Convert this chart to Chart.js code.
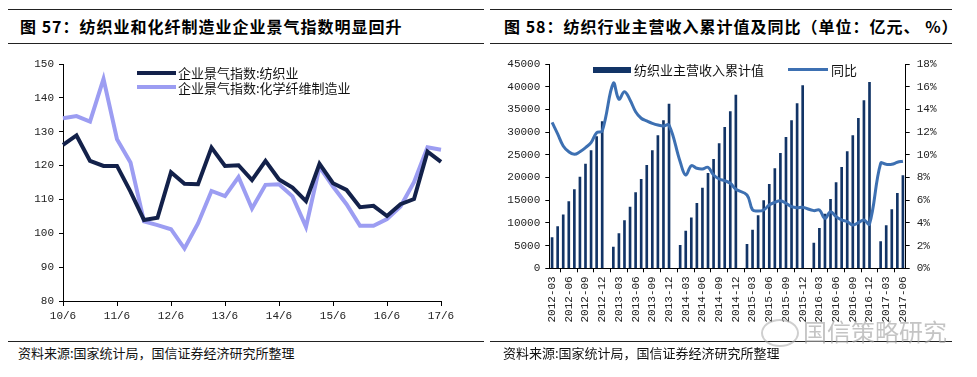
<!DOCTYPE html>
<html>
<head>
<meta charset="utf-8">
<script src="https://cdn.jsdelivr.net/npm/chart.js@4.4.1/dist/chart.umd.min.js"></script>
<style>
  body { margin: 0; background: #fff; }
  #page { position: relative; width: 977px; height: 377px; overflow: hidden; background: #fff;
          font-family: "Noto Sans CJK SC", sans-serif; color: #000; }
  .abs { position: absolute; white-space: nowrap; }
  .rule { position: absolute; height: 1px; background: #222; }
  .title { font-size: 16px; font-weight: 700; line-height: 18px; letter-spacing: 1px; }
  .src { font-size: 13px; line-height: 16px; color: #111; }
  .lg { font-size: 13px; line-height: 15px; color: #111; }
  canvas { position: absolute; }
</style>
</head>
<body>
<div id="page">
  <!-- 左图 -->
  <div class="rule" style="left:8px;top:9px;width:476px"></div>
  <div class="abs title" style="left:20px;top:17px">图 57：纺织业和化纤制造业企业景气指数明显回升</div>
  <div class="rule" style="left:8px;top:43px;width:476px"></div>
  <canvas id="c1" width="480" height="280" style="left:0;top:50px"></canvas>
  <div class="abs" style="left:137px;top:70.5px;width:39px;height:4px;background:#13214a"></div>
  <div class="abs lg" style="left:178px;top:65px">企业景气指数:纺织业</div>
  <div class="abs" style="left:137px;top:85px;width:39px;height:4px;background:#9c9df2"></div>
  <div class="abs lg" style="left:178px;top:79.5px">企业景气指数:化学纤维制造业</div>
  <div class="rule" style="left:8px;top:341px;width:476px"></div>
  <div class="abs src" style="left:18px;top:345px">资料来源:国家统计局，国信证券经济研究所整理</div>

  <!-- 右图 -->
  <div class="rule" style="left:490px;top:9px;width:462px"></div>
  <div class="abs title" style="left:504px;top:17px">图 58：纺织行业主营收入累计值及同比（单位：亿元、 %）</div>
  <div class="rule" style="left:490px;top:43px;width:462px"></div>
  <canvas id="c2" width="487" height="280" style="left:490px;top:50px"></canvas>
  <div class="abs" style="left:593px;top:66.5px;width:38px;height:6px;background:#123466"></div>
  <div class="abs lg" style="left:634px;top:61.5px">纺织业主营收入累计值</div>
  <div class="abs" style="left:788px;top:67.5px;width:40px;height:3px;background:#3d70b2"></div>
  <div class="abs lg" style="left:831px;top:61.5px">同比</div>
  <div class="rule" style="left:490px;top:341px;width:462px"></div>
  <div class="abs src" style="left:503px;top:345px">资料来源:国家统计局，国信证券经济研究所整理</div>

  <!-- 水印 -->
  <div class="abs" style="left:761px;top:319px;width:34px;height:24px;border:2px solid rgba(175,175,175,0.6);border-radius:50%"></div>
  <div class="abs" style="left:803px;top:316px;font-size:24px;line-height:30px;color:rgba(165,165,165,0.65)">国信策略研究</div>
</div>

<script>
// ---- 图57：企业景气指数（季度）----
const quarters = ['10/6','10/9','10/12','11/3','11/6','11/9','11/12','12/3','12/6','12/9','12/12',
  '13/3','13/6','13/9','13/12','14/3','14/6','14/9','14/12','15/3','15/6','15/9','15/12',
  '16/3','16/6','16/9','16/12','17/3','17/6'];
const textileIdx = [126.1, 128.9, 121.4, 119.9, 119.9, 112.3, 103.9, 104.6, 118.0, 114.6, 114.5,
  125.3, 119.9, 120.1, 115.7, 121.4, 115.9, 113.5, 109.5, 120.5, 114.8, 112.8, 107.7,
  108.1, 105.1, 108.6, 110.1, 124.1, 121.1];
const fiberIdx = [134.0, 134.6, 133.0, 145.6, 127.8, 120.9, 103.5, 102.4, 101.2, 95.5, 102.9,
  112.5, 111.0, 116.6, 107.3, 114.3, 114.5, 110.9, 101.9, 119.6, 113.8, 108.6, 102.2,
  102.2, 104.2, 107.9, 115.1, 125.4, 124.7];

// ---- 图58：主营收入累计值（亿元）及同比（%）----
const months = [
  '2012-03','2012-04','2012-05','2012-06','2012-07','2012-08','2012-09','2012-10','2012-11','2012-12',
  '2013-01','2013-02','2013-03','2013-04','2013-05','2013-06','2013-07','2013-08','2013-09','2013-10','2013-11','2013-12',
  '2014-01','2014-02','2014-03','2014-04','2014-05','2014-06','2014-07','2014-08','2014-09','2014-10','2014-11','2014-12',
  '2015-01','2015-02','2015-03','2015-04','2015-05','2015-06','2015-07','2015-08','2015-09','2015-10','2015-11','2015-12',
  '2016-01','2016-02','2016-03','2016-04','2016-05','2016-06','2016-07','2016-08','2016-09','2016-10','2016-11','2016-12',
  '2017-01','2017-02','2017-03','2017-04','2017-05','2017-06'];
const revenueCum = [
  6750, 9180, 11800, 14680, 17330, 20110, 22980, 25910, 29000, 32300,
  null, 4700, 7640, 10500, 13510, 16660, 19600, 22680, 25910, 29220, 32520, 36190,
  null, 5070, 8220, 11090, 14320, 17690, 20920, 24010, 27460, 31050, 34500, 38170,
  null, 5290, 8440, 11600, 14900, 18500, 21950, 25330, 28850, 32520, 36260, 40230,
  null, 5580, 8810, 11970, 15200, 18870, 22240, 25690, 29220, 33030, 36930, 40960,
  null, 5870, 9400, 12920, 16520, 20410];
const revenueYoY = [
  12.86, 11.85, 10.78, 10.27, 10.04, 10.27, 10.63, 11.07, 11.95, 12.10,
  null, 16.30, 14.90, 15.56, 14.83, 13.80, 13.22, 12.98, 12.77, 12.62, 12.54, 12.62,
  null, 9.39, 8.22, 9.04, 8.81, 8.75, 8.90, 8.22, 7.87, 7.72, 7.49, 6.96,
  null, 6.46, 5.14, 5.05, 5.14, 5.58, 5.81, 5.96, 5.73, 5.43, 5.34, 5.37,
  null, 5.08, 5.14, 4.40, 4.99, 4.55, 4.26, 4.11, 3.82, 4.02, 4.26, 3.90,
  null, 9.25, 9.16, 9.16, 9.34, 9.43];

const tickFont = {family: "'Liberation Mono', monospace", size: 11};
const tickColor = '#222';

new Chart(document.getElementById('c1'), {
  type: 'line',
  data: {
    labels: quarters,
    datasets: [
      {label: '企业景气指数:纺织业', data: textileIdx, borderColor: '#13214a', borderWidth: 4,
       pointRadius: 0, tension: 0, borderJoinStyle: 'miter'},
      {label: '企业景气指数:化学纤维制造业', data: fiberIdx, borderColor: '#9c9df2', borderWidth: 4,
       pointRadius: 0, tension: 0, borderJoinStyle: 'miter'}
    ]
  },
  options: {
    responsive: false,
    animation: false,
    layout: {padding: {top: 14, right: 39, left: 0, bottom: 0}},
    plugins: {legend: {display: false}, tooltip: {enabled: false}},
    scales: {
      x: {
        offset: false,
        border: {color: '#000', width: 1},
        grid: {drawOnChartArea: false, color: '#000', tickLength: 5},
        ticks: {autoSkip: false, maxRotation: 0, minRotation: 0, padding: 3, font: tickFont, color: tickColor,
                callback: (v, i) => i % 4 === 0 ? quarters[i] : null},
        afterFit: s => { s.height = 29; }
      },
      y: {
        min: 80, max: 150,
        border: {color: '#000', width: 1},
        grid: {drawOnChartArea: false, color: '#000', tickLength: 4},
        ticks: {stepSize: 10, padding: 5, font: tickFont, color: tickColor},
        afterFit: s => { s.width = 63; }
      }
    }
  }
});

new Chart(document.getElementById('c2'), {
  type: 'bar',
  data: {
    labels: months,
    datasets: [
      {type: 'line', label: '同比', data: revenueYoY, yAxisID: 'y1', borderColor: '#3d70b2', borderWidth: 3,
       pointRadius: 0, tension: 0.4, spanGaps: true, order: 0},
      {type: 'bar', label: '纺织业主营收入累计值', data: revenueCum, yAxisID: 'y', backgroundColor: '#123466',
       barThickness: 2, order: 1}
    ]
  },
  options: {
    responsive: false,
    animation: false,
    layout: {padding: {top: 14, right: 0, left: 0, bottom: 0}},
    plugins: {legend: {display: false}, tooltip: {enabled: false}},
    scales: {
      x: {
        offset: true,
        border: {color: '#000', width: 1},
        grid: {offset: true, drawOnChartArea: false, color: '#000', tickLength: 4},
        ticks: {autoSkip: false, maxRotation: 90, minRotation: 90, padding: 4, font: tickFont, color: tickColor,
                callback: (v, i) => i % 3 === 0 ? months[i] : null},
        afterFit: s => { s.height = 61.7; }
      },
      y: {
        min: 0, max: 45000,
        border: {color: '#000', width: 1},
        grid: {drawOnChartArea: false, color: '#000', tickLength: 4},
        ticks: {stepSize: 5000, padding: 5, font: tickFont, color: tickColor, callback: v => String(v)},
        afterFit: s => { s.width = 59.3; }
      },
      y1: {
        position: 'right',
        min: 0, max: 18,
        border: {color: '#000', width: 1},
        grid: {drawOnChartArea: false, color: '#000', tickLength: 4},
        ticks: {stepSize: 2, padding: 7, font: tickFont, color: tickColor, callback: v => v + '%'},
        afterFit: s => { s.width = 71.3; }
      }
    }
  }
});
</script>
</body>
</html>
